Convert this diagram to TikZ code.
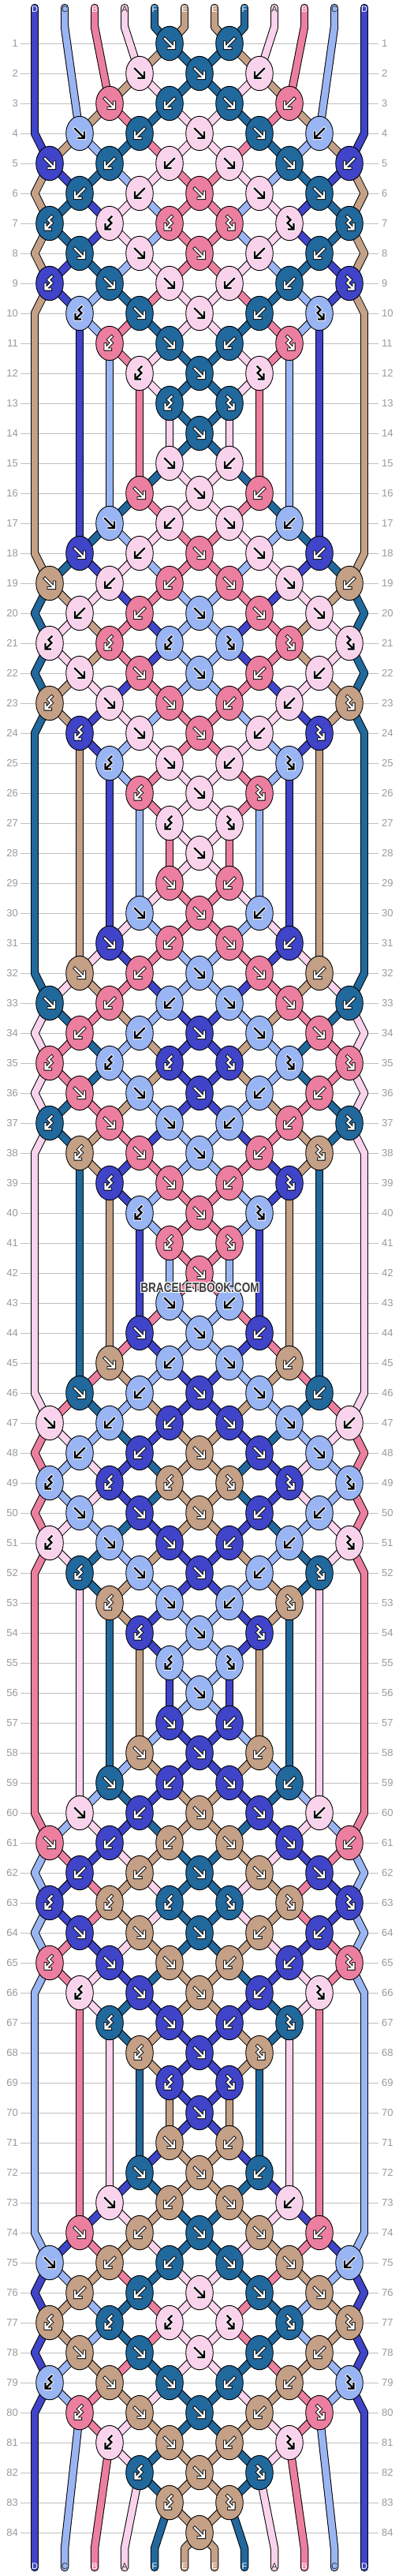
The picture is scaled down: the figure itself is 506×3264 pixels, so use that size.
\documentclass[tikz,border=0pt]{standalone}
\usepackage{fontspec}
\setmainfont{Liberation Sans}
\usetikzlibrary{shapes.geometric}
\definecolor{cD}{HTML}{3F44C8}
\definecolor{cC}{HTML}{9AB5F3}
\definecolor{cB}{HTML}{EC7F9F}
\definecolor{cA}{HTML}{F9D2EB}
\definecolor{cF}{HTML}{21689C}
\definecolor{cE}{HTML}{C4A086}
\definecolor{gridgray}{HTML}{C0C0C0}
\definecolor{numgray}{HTML}{9A9A9A}
\definecolor{wmgray}{HTML}{3C3C3C}
\colorlet{aD}{white}\colorlet{oD}{black}
\colorlet{aF}{white}\colorlet{oF}{black}
\colorlet{aB}{white}\colorlet{oB}{black}
\colorlet{aE}{white}\colorlet{oE}{black}
\colorlet{aA}{black}\colorlet{oA}{white}
\colorlet{aC}{black}\colorlet{oC}{white}
\colorlet{lD}{white}\colorlet{lF}{white}\colorlet{lB}{white}\colorlet{lE}{white}
\definecolor{lA}{HTML}{333333}\definecolor{lC}{HTML}{333333}

\tikzset{
  bknot/.style={ellipse, draw=black, line width=0.9pt, minimum width=34.6pt, minimum height=43.4pt, inner sep=0pt},
  souts/.style={line width=10.5pt, draw=black, line cap=round, line join=round},
  sins/.style={line width=8.5pt, line cap=round, line join=round},
  arro/.style={line width=4pt, line cap=rect, line join=miter},
  arri/.style={line width=2.4pt, line cap=rect, line join=miter},
  gridline/.style={draw=gridgray, line width=0.9pt},
  numl/.style={anchor=east, inner sep=0pt, text=numgray, font=\fontsize{13}{13}\selectfont},
  numr/.style={anchor=west, inner sep=0pt, text=numgray, font=\fontsize{13}{13}\selectfont},
  slab/.style={inner sep=0pt, font=\fontsize{11}{11}\selectfont},
  wm/.style={inner sep=0pt, font=\bfseries\fontsize{17}{17}\selectfont},
}

\def\Tn{-}\def\Tf{f}\def\Tb{b}\def\TR{R}\def\TL{L}\def\nn{n}
\def\mode{0}
\newcommand\defrow[4]{%
 \expandafter\def\csname ty#1:1\endcsname{#2}%
 \expandafter\def\csname ty#1:2\endcsname{#3}%
 \expandafter\def\csname ty#1:3\endcsname{#4}}
\defrow{1}{-}{-}{f}
\defrow{2}{-}{f}{f}
\defrow{3}{-}{f}{b}
\defrow{4}{f}{b}{f}
\defrow{5}{f}{b}{b}
\defrow{6}{b}{b}{f}
\defrow{7}{R}{R}{R}
\defrow{8}{f}{f}{f}
\defrow{9}{R}{f}{f}
\defrow{10}{R}{f}{f}
\defrow{11}{-}{R}{f}
\defrow{12}{-}{R}{f}
\defrow{13}{-}{-}{R}
\defrow{14}{-}{-}{f}

\newcommand\gettype[2]{\expandafter\let\expandafter\curt\csname ty#1:#2\endcsname}
\newcommand\mirrortype{%
  \ifx\curt\Tf \let\curt\Tb \else
  \ifx\curt\Tb \let\curt\Tf \else
  \ifx\curt\TR \let\curt\TL \else
  \ifx\curt\TL \let\curt\TR \fi\fi\fi\fi}

\newcommand\segdraw[2]{%
  \edef\sdcol{c#1}%
  \ifnum\mode=1\relax \draw[souts] #2;\fi
  \ifnum\mode=2\relax \draw[sins,draw=\sdcol] #2;\fi
}

\newcommand\enterpt[3]{%
  \edef\epc{\csname sC#1\endcsname}%
  \edef\epx{\csname sX#1\endcsname}%
  \edef\epy{\csname sY#1\endcsname}%
  \edef\epd{\csname sD#1\endcsname}%
  \ifnum\csname sS#1\endcsname=1\relax
    \ifx\epd\nn \segdraw{\epc}{(\epx,\epy) -- (#2,#3)}%
    \else \segdraw{\epc}{(\epx,\epy) -- (\epx,\epd) -- (#2,#3)}%
    \fi
  \else
    \segdraw{\epc}{(\epx,\epy) -- (#2,#3)}%
  \fi
  \expandafter\xdef\csname sX#1\endcsname{#2}%
  \expandafter\xdef\csname sY#1\endcsname{#3}%
  \expandafter\xdef\csname sS#1\endcsname{1}%
  \expandafter\xdef\csname sD#1\endcsname{n}%
}

\newcommand\setpend[2]{%
  \ifnum\csname sS#1\endcsname=1\relax
    \expandafter\xdef\csname sD#1\endcsname{#2}%
  \fi}

\newcommand\glyph[1]{\draw[arro,draw=\kor] #1; \draw[arri,draw=\kar] #1;}

\newcommand\drawknot[4]{%
  \edef\kfill{c#3}\edef\kar{a#3}\edef\kor{o#3}%
  \node[bknot,fill=\kfill] (#4) at (#1,#2) {};
  \begin{scope}[shift={(#1,#2)}]
    \ifx\curt\Tf \glyph{(-6,-6) -- (5,5) (6,-1.5) -- (6,6) -- (-1.5,6)}\fi
    \ifx\curt\Tb \glyph{(6,-6) -- (-5,5) (-6,-1.5) -- (-6,6) -- (1.5,6)}\fi
    \ifx\curt\TR \glyph{(2.5,-8.5) -- (-1.5,-4.5) -- (2.5,-0.5) -- (-5,7) (-5.5,1) -- (-5.5,7.5) -- (1,7.5)}\fi
    \ifx\curt\TL \glyph{(-2.5,-8.5) -- (1.5,-4.5) -- (-2.5,-0.5) -- (5,7) (5.5,1) -- (5.5,7.5) -- (-1,7.5)}\fi
  \end{scope}}

\newcommand\swapcols[1]{%
  \expandafter\xdef\csname sC#1\endcsname{\kcr}%
  \expandafter\xdef\csname sC\pb\endcsname{\kcl}}

\newcommand\doslot[4]{%
  \pgfmathtruncatemacro\pb{#1+1}%
  \ifx\curt\Tn
    \setpend{#1}{#3}\setpend{\pb}{#3}%
  \else
    \enterpt{#1}{#2}{#3}\enterpt{\pb}{#2}{#3}%
    \edef\kcl{\csname sC#1\endcsname}\edef\kcr{\csname sC\pb\endcsname}%
    \ifx\curt\Tf \edef\kcol{\kcl}\else\ifx\curt\TL \edef\kcol{\kcl}\else\edef\kcol{\kcr}\fi\fi
    \ifnum\mode=3\relax \drawknot{#2}{#3}{\kcol}{#4}\fi
    \ifx\curt\Tf \swapcols{#1}\else\ifx\curt\Tb \swapcols{#1}\fi\fi
  \fi}

\newcommand\simpass[1]{%
  \def\mode{#1}%
  \foreach \lc [count=\pp] in {D,C,B,A,F,E,E,F,A,B,C,D} {
    \pgfmathtruncatemacro\lx{44+38*(\pp-1)}
    \expandafter\xdef\csname sC\pp\endcsname{\lc}
    \expandafter\xdef\csname sX\pp\endcsname{\lx}
    \expandafter\xdef\csname sY\pp\endcsname{34}
    \expandafter\xdef\csname sS\pp\endcsname{0}
    \expandafter\xdef\csname sD\pp\endcsname{n}
    \segdraw{\lc}{(\lx,10) -- (\lx,34)}
  }
  \foreach \rw in {1,...,84} {
    \pgfmathtruncatemacro\bi{mod(\rw-1,14)+1}
    \pgfmathtruncatemacro\yy{17+38*\rw}
    \ifodd\rw
      \foreach \ks in {1,...,6} {
        \ifnum\ks<4 \gettype{\bi}{\ks}\else \pgfmathtruncatemacro\kk{7-\ks}\gettype{\bi}{\kk}\mirrortype\fi
        \pgfmathtruncatemacro\pa{2*\ks-1}
        \pgfmathtruncatemacro\xx{63+76*(\ks-1)}
        \doslot{\pa}{\xx}{\yy}{k\rw-\ks}
      }
    \else
      \enterpt{1}{44}{\yy}
      \enterpt{12}{462}{\yy}
      \foreach \ks in {1,...,5} {
        \ifnum\ks<4 \gettype{\bi}{\ks}\else \pgfmathtruncatemacro\kk{6-\ks}\gettype{\bi}{\kk}\mirrortype\fi
        \pgfmathtruncatemacro\pa{2*\ks}
        \pgfmathtruncatemacro\xx{101+76*(\ks-1)}
        \doslot{\pa}{\xx}{\yy}{k\rw-\ks}
      }
    \fi
  }
  \foreach \pp in {1,...,12} {
    \pgfmathtruncatemacro\lx{44+38*(\pp-1)}
    \edef\epc{\csname sC\pp\endcsname}\edef\epx{\csname sX\pp\endcsname}\edef\epy{\csname sY\pp\endcsname}
    \segdraw{\epc}{(\epx,\epy) -- (\lx,3229) -- (\lx,3253)}
  }
}

\begin{document}
\begin{tikzpicture}[x=1pt,y=-1pt]
\useasboundingbox (0,0) rectangle (506,3264);
\fill[white] (0,0) rectangle (506,3264);

% row lines and numbers
\foreach \rw in {1,...,84} {
  \pgfmathtruncatemacro\yy{17+38*\rw}
  \draw[gridline] (26,\yy) -- (480,\yy);
  \node[numl] (nl\rw) at (23,\yy) {\rw};
  \node[numr] (nr\rw) at (484,\yy) {\rw};
}

% strings (outline pass, colour pass) and knots
\simpass{1}
\simpass{2}
\simpass{3}

% labels
\foreach \lc [count=\pp] in {D,C,B,A,F,E,E,F,A,B,C,D} {
  \pgfmathtruncatemacro\lx{44+38*(\pp-1)}
  \edef\tcol{l\lc}
  \node[slab, text=\tcol] (top\pp) at (\lx,12) {\lc};
  \node[slab, text=\tcol] (bot\pp) at (\lx,3252) {\lc};
}

% watermark
\foreach \dx/\dy in {-1/0,1/0,0/-1,0/1,-1/-1,1/1,-1/1,1/-1} {
  \node[wm, text=white] at (253.5+\dx,1632+\dy) {\scalebox{0.8}[1]{BRACELETBOOK.COM}};
}
\node[wm, text=wmgray] (wmark) at (253.5,1632) {\scalebox{0.8}[1]{BRACELETBOOK.COM}};
\end{tikzpicture}
\end{document}
